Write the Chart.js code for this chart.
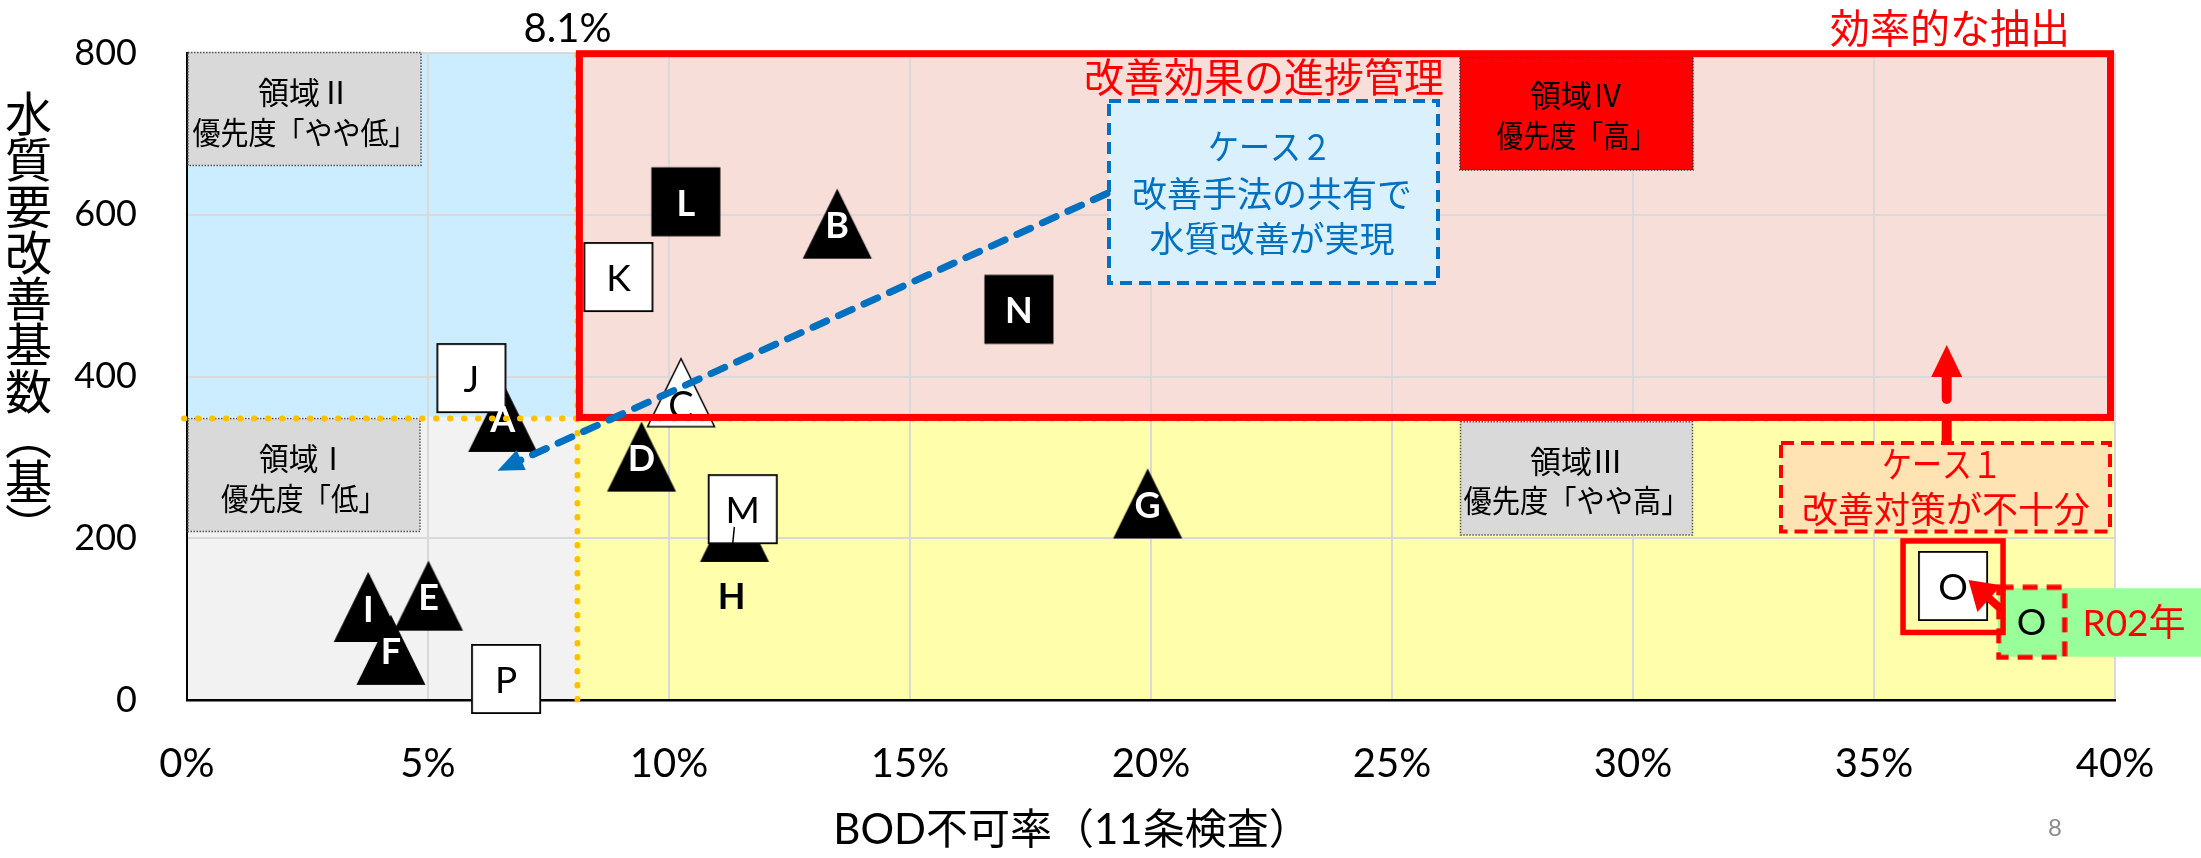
<!DOCTYPE html>
<html><head><meta charset="utf-8">
<script src="https://cdn.jsdelivr.net/npm/chart.js@4/dist/chart.umd.min.js"></script>
<style>html,body{margin:0;padding:0;background:#fff;}#wrap{width:2201px;height:858px;}</style>
</head><body><div id="wrap"><canvas id="c" width="2201" height="858"></canvas></div>
<script>
// ---------------- data ----------------
const xTickValues = [0, 5, 10, 15, 20, 25, 30, 35, 40];
const yTickValues = [0, 200, 400, 600, 800];
const thresholdX = 8.1;   // %
const thresholdY = 350;   // 基

const blackTriLabels = ['A', 'B', 'D', 'E', 'F', 'G', 'I', 'H'];
const blackTriX = [6.55, 13.49, 9.43, 5.01, 4.23, 19.93, 3.76, 11.36];
const blackTriY = [350, 589, 301, 129, 62, 243, 115, 214];

const whiteTriLabels = ['C'];
const whiteTriX = [10.25];
const whiteTriY = [380];

const blackSqLabels = ['L', 'N'];
const blackSqX = [10.35, 17.26];
const blackSqY = [616, 483];

const whiteSqLabels = ['J', 'K', 'M', 'P', 'O'];
const whiteSqX = [5.90, 8.95, 11.53, 6.62, 36.64];
const whiteSqY = [398, 523, 236, 26, 141];

const prevLabels = ['O'];   // R02年
const prevX = [38.27];
const prevY = [96];

// ---------------- helpers ----------------
const CJK = "'Noto Sans CJK JP'";
const MIX = "Lato, 'Noto Sans CJK JP'";
function pts(xs, ys) { return xs.map((x, i) => ({ x: x, y: ys[i] })); }
function markerCanvas(w, h, draw) { const c = document.createElement('canvas'); c.width = w; c.height = h; draw(c.getContext('2d')); return c; }
const triBlack = markerCanvas(72, 72, g => { g.beginPath(); g.moveTo(36, 1); g.lineTo(70.5, 71); g.lineTo(1.5, 71); g.closePath(); g.fillStyle = '#000'; g.fill(); });
const triWhite = markerCanvas(72, 72, g => { g.beginPath(); g.moveTo(36, 2); g.lineTo(69.5, 70); g.lineTo(2.5, 70); g.closePath(); g.fillStyle = '#fff'; g.fill(); g.lineWidth = 1.5; g.strokeStyle = '#000'; g.stroke(); });
const sqBlack = markerCanvas(72, 72, g => { g.fillStyle = '#000'; g.fillRect(1.5, 1.5, 69, 69); });
const sqWhite = markerCanvas(72, 72, g => { g.fillStyle = '#fff'; g.fillRect(1, 1, 70, 70); g.strokeStyle = '#000'; g.lineWidth = 1.8; g.strokeRect(1.9, 1.9, 68.2, 68.2); });
const sqDashRed = markerCanvas(72, 76, g => { g.strokeStyle = '#FF0000'; g.lineWidth = 5; g.setLineDash([15, 9]); g.strokeRect(3, 3, 66, 70); });

function txt(ctx, s, x, y, font, color, maxW) {
  ctx.save(); ctx.font = font; ctx.fillStyle = color; ctx.textAlign = 'center'; ctx.textBaseline = 'middle';
  if (maxW) ctx.fillText(s, x, y, maxW); else ctx.fillText(s, x, y);
  ctx.restore();
}
function box(ctx, x, y, w, h, fill, stroke, lw, dash) {
  ctx.save(); ctx.fillStyle = fill; ctx.fillRect(x, y, w, h);
  if (stroke) { ctx.strokeStyle = stroke; ctx.lineWidth = lw; ctx.setLineDash(dash || []); ctx.strokeRect(x, y, w, h); }
  ctx.restore();
}
function arrow(ctx, x0, y0, x1, y1, color, lw, headLen, headW, dash) {
  const a = Math.atan2(y1 - y0, x1 - x0);
  const hx = x1 - headLen * Math.cos(a), hy = y1 - headLen * Math.sin(a);
  ctx.save();
  ctx.strokeStyle = color; ctx.fillStyle = color; ctx.lineWidth = lw; ctx.lineCap = 'round';
  ctx.setLineDash(dash || []);
  ctx.beginPath(); ctx.moveTo(x0, y0); ctx.lineTo(hx + 2 * Math.cos(a), hy + 2 * Math.sin(a)); ctx.stroke();
  ctx.setLineDash([]);
  const px = -Math.sin(a) * headW / 2, py = Math.cos(a) * headW / 2;
  ctx.beginPath(); ctx.moveTo(x1, y1); ctx.lineTo(hx + px, hy + py); ctx.lineTo(hx - px, hy - py); ctx.closePath(); ctx.fill();
  ctx.restore();
}

// region fills (under grid)
const regionFill = {
  id: 'regionFill',
  beforeDraw(chart) {
    const { ctx, scales: { x, y } } = chart;
    const x0 = x.getPixelForValue(x.min), xt = x.getPixelForValue(thresholdX), x1 = x.getPixelForValue(x.max);
    const y0 = y.getPixelForValue(y.min), yt = y.getPixelForValue(thresholdY), y1 = y.getPixelForValue(y.max);
    ctx.save();
    ctx.fillStyle = '#F2F2F2'; ctx.fillRect(x0, yt, xt - x0, y0 - yt);
    ctx.fillStyle = '#CCECFF'; ctx.fillRect(x0, y1, xt - x0, yt - y1);
    ctx.fillStyle = '#FFFFAB'; ctx.fillRect(xt, yt, x1 - xt, y0 - yt);
    ctx.fillStyle = '#F8DED8'; ctx.fillRect(xt, y1, x1 - xt, yt - y1);
    ctx.restore();
  }
};

// boxes and texts above grid, below markers
const boxesUnder = {
  id: 'boxesUnder',
  beforeDatasetsDraw(chart) {
    const ctx = chart.ctx;
    const dot = [1.5, 1.5];
    // region labels
    box(ctx, 188, 52.5, 233, 113, '#D9D9D9', '#555', 1.5, dot);
    txt(ctx, '領域Ⅱ', 304.5, 92, `31px ${CJK}`, '#000', 93);
    txt(ctx, '優先度「やや低」', 304.5, 132, `31px ${CJK}`, '#000', 224);
    box(ctx, 188, 418.5, 232, 113, '#D9D9D9', '#555', 1.5, dot);
    txt(ctx, '領域Ⅰ', 303.5, 458, `31px ${CJK}`, '#000', 89);
    txt(ctx, '優先度「低」', 303.5, 498, `31px ${CJK}`, '#000', 165);
    box(ctx, 1460.5, 421.7, 232, 113.3, '#D9D9D9', '#555', 1.5, dot);
    txt(ctx, '領域Ⅲ', 1576.5, 461, `31px ${CJK}`, '#000', 96);
    txt(ctx, '優先度「やや高」', 1576.5, 500.5, `31px ${CJK}`, '#000', 226);
    box(ctx, 1460, 56.7, 233, 113.3, '#FF0000', '#333', 1.5, dot);
    txt(ctx, '領域Ⅳ', 1576.5, 95, `31px ${CJK}`, '#000', 97);
    txt(ctx, '優先度「高」', 1576.5, 135, `31px ${CJK}`, '#000', 160);
    // case 2 box
    box(ctx, 1109, 101, 329, 182, '#DAF0FC', '#0070C0', 4, [12, 7]);
    txt(ctx, 'ケース２', 1270, 147, `35px ${CJK}`, '#0070C0', 124);
    txt(ctx, '改善手法の共有で', 1272, 193.5, `35px ${CJK}`, '#0070C0', 282);
    txt(ctx, '水質改善が実現', 1272, 238.5, `35px ${CJK}`, '#0070C0', 256);
    // case 1 box
    box(ctx, 1781, 443, 329, 88.5, '#FFE3B3', '#FF0000', 4, [13, 7]);
    txt(ctx, 'ケース１', 1942, 464.5, `36px ${CJK}`, '#FF0000', 120);
    txt(ctx, '改善対策が不十分', 1946, 509.5, `36px ${CJK}`, '#FF0000', 290);
    // R02 green label
    box(ctx, 1998, 588.3, 203, 68.4, '#99FF99');
    txt(ctx, 'R02年', 2134, 624, `37px ${MIX}`, '#FF0000');
    // red title inside region IV
    txt(ctx, '改善効果の進捗管理', 1264, 77, `40px ${CJK}`, '#FF0000', 374);
  }
};

// letters, overlays
const overlays = {
  id: 'overlays',
  afterDatasetsDraw(chart) {
    const { ctx, scales: { x, y } } = chart;
    // letters on markers
    chart.data.datasets.forEach((ds, i) => {
      const meta = chart.getDatasetMeta(i);
      meta.data.forEach((el, j) => {
        const lab = ds.labels[j];
        let dx = 0, dy = ds.labelDy, color = ds.labelColor;
        if (lab === 'H' && ds.labelColor === '#fff') { dx = -3; dy = 70; color = '#000'; }
        txt(ctx, lab, el.x + dx, el.y + dy, ds.labelFont, color);
      });
    });
    // leader line of M label
    const mIdx = whiteSqLabels.indexOf('M');
    const mEl = chart.getDatasetMeta(3).data[mIdx];
    ctx.save(); ctx.strokeStyle = '#000'; ctx.lineWidth = 1.5;
    ctx.beginPath(); ctx.moveTo(mEl.x - 8.4, mEl.y + 17.7); ctx.lineTo(mEl.x - 10, mEl.y + 34.5); ctx.stroke(); ctx.restore();

    const x0 = x.getPixelForValue(x.min), xt = x.getPixelForValue(thresholdX), x1 = x.getPixelForValue(x.max);
    const y0 = y.getPixelForValue(y.min), yt = y.getPixelForValue(thresholdY), y1 = y.getPixelForValue(y.max);
    // orange dotted threshold lines
    ctx.save(); ctx.strokeStyle = '#FFC000'; ctx.lineWidth = 6; ctx.lineCap = 'round'; ctx.setLineDash([0.5, 13.5]);
    ctx.beginPath(); ctx.moveTo(xt, y1 + 2); ctx.lineTo(xt, y0); ctx.stroke();
    ctx.beginPath(); ctx.moveTo(x0 - 3, yt + 1.5); ctx.lineTo(x1, yt + 1.5); ctx.stroke();
    ctx.restore();
    // red frame of region IV
    ctx.save(); ctx.strokeStyle = '#FF0000'; ctx.lineWidth = 7; ctx.setLineDash([]);
    ctx.strokeRect(xt + 2, y1 + 0.7, (x1 - 4.5) - (xt + 2), (yt + 0.5) - (y1 + 0.7));
    ctx.restore();
    // up arrow and connector (case 1)
    ctx.save(); ctx.fillStyle = '#FF0000';
    ctx.fillRect(1941.7, 419, 10, 24);
    ctx.restore();
    arrow(ctx, 1946.7, 399, 1946.7, 345, '#FF0000', 10, 32, 31);
    // red frame around O (current) and arrow from R02
    const oIdx = whiteSqLabels.indexOf('O');
    const oEl = chart.getDatasetMeta(3).data[oIdx];
    ctx.save(); ctx.strokeStyle = '#FF0000'; ctx.lineWidth = 5.5;
    ctx.strokeRect(oEl.x - 50, oEl.y - 45, 100, 91.5);
    ctx.restore();
    arrow(ctx, 2001, 609, 1968.5, 580, '#FF0000', 8, 28, 36);
    // case 2 blue dashed arrow
    arrow(ctx, 1107, 193.5, 497.5, 470.7, '#0070C0', 7, 26, 22, [15, 13]);
  },
  afterDraw(chart) {
    const ctx = chart.ctx;
    // threshold label
    txt(ctx, '8.1%', 567.5, 29, `40px Lato`, '#000');
    // top right title
    txt(ctx, '効率的な抽出', 1950, 28, `40px ${CJK}`, '#FF0000', 246);
    // x axis title
    txt(ctx, 'BOD不可率（11条検査）', 1072, 830, `42px ${MIX}`, '#000', 478);
    // y axis title, upright vertical characters
    const yChars = ['水', '質', '要', '改', '善', '基', '数', '︵', '基', '︶'];
    const yPos = [113, 159.5, 206, 252.5, 298.5, 344.5, 391, 436, 481.5, 526];
    yChars.forEach((c, i) => txt(ctx, c, 28.5, yPos[i], `47px ${CJK}`, '#000'));
    // page number
    txt(ctx, '8', 2055, 828, `24px Lato`, '#8C8C8C');
  }
};

const common = { pointRadius: 35, pointHoverRadius: 35, clip: false, showLine: false };
new Chart(document.getElementById('c'), {
  type: 'scatter',
  data: {
    datasets: [
      Object.assign({ label: 'tri-black', order: 5, data: pts(blackTriX, blackTriY), pointStyle: triBlack, labels: blackTriLabels, labelColor: '#fff', labelFont: 'bold 36px Lato', labelDy: 3 }, common),
      Object.assign({ label: 'tri-white', order: 4, data: pts(whiteTriX, whiteTriY), pointStyle: triWhite, labels: whiteTriLabels, labelColor: '#000', labelFont: '38px Lato', labelDy: 14 }, common),
      Object.assign({ label: 'sq-black', order: 3, data: pts(blackSqX, blackSqY), pointStyle: sqBlack, labels: blackSqLabels, labelColor: '#fff', labelFont: 'bold 36px Lato', labelDy: 2.5 }, common),
      Object.assign({ label: 'sq-white', order: 2, data: pts(whiteSqX, whiteSqY), pointStyle: sqWhite, labels: whiteSqLabels, labelColor: '#000', labelFont: '37px Lato', labelDy: 2 }, common),
      Object.assign({ label: 'prev-R02', order: 1, data: pts(prevX, prevY), pointStyle: sqDashRed, labels: prevLabels, labelColor: '#000', labelFont: '37px Lato', labelDy: 1 }, common)
    ]
  },
  options: {
    responsive: false, animation: false, devicePixelRatio: 1, events: [],
    layout: { padding: { top: 53, right: 86, bottom: 0, left: 0 } },
    plugins: { legend: { display: false }, tooltip: { enabled: false } },
    scales: {
      x: {
        type: 'linear', min: xTickValues[0], max: xTickValues[xTickValues.length - 1],
        afterBuildTicks: s => { s.ticks = xTickValues.map(v => ({ value: v })); },
        afterFit: s => { s.height = 158; s.paddingLeft = 0; s.paddingRight = 0; },
        grid: { color: '#D9D9D9', lineWidth: 2, drawTicks: false },
        border: { color: '#000', width: 2.5 },
        ticks: { padding: 40, color: '#000', font: { family: 'Lato', size: 40 }, maxRotation: 0, autoSkip: false, callback: v => v + '%' }
      },
      y: {
        type: 'linear', min: yTickValues[0], max: yTickValues[yTickValues.length - 1],
        afterBuildTicks: s => { s.ticks = yTickValues.map(v => ({ value: v })); },
        afterFit: s => { s.width = 187; s.paddingTop = 0; s.paddingBottom = 0; },
        grid: { color: '#D9D9D9', lineWidth: 2, drawTicks: false },
        border: { color: '#000', width: 2 },
        ticks: { padding: 50, color: '#000', font: { family: 'Lato', size: 36 } }
      }
    }
  },
  plugins: [regionFill, boxesUnder, overlays]
});
</script>
</body></html>
